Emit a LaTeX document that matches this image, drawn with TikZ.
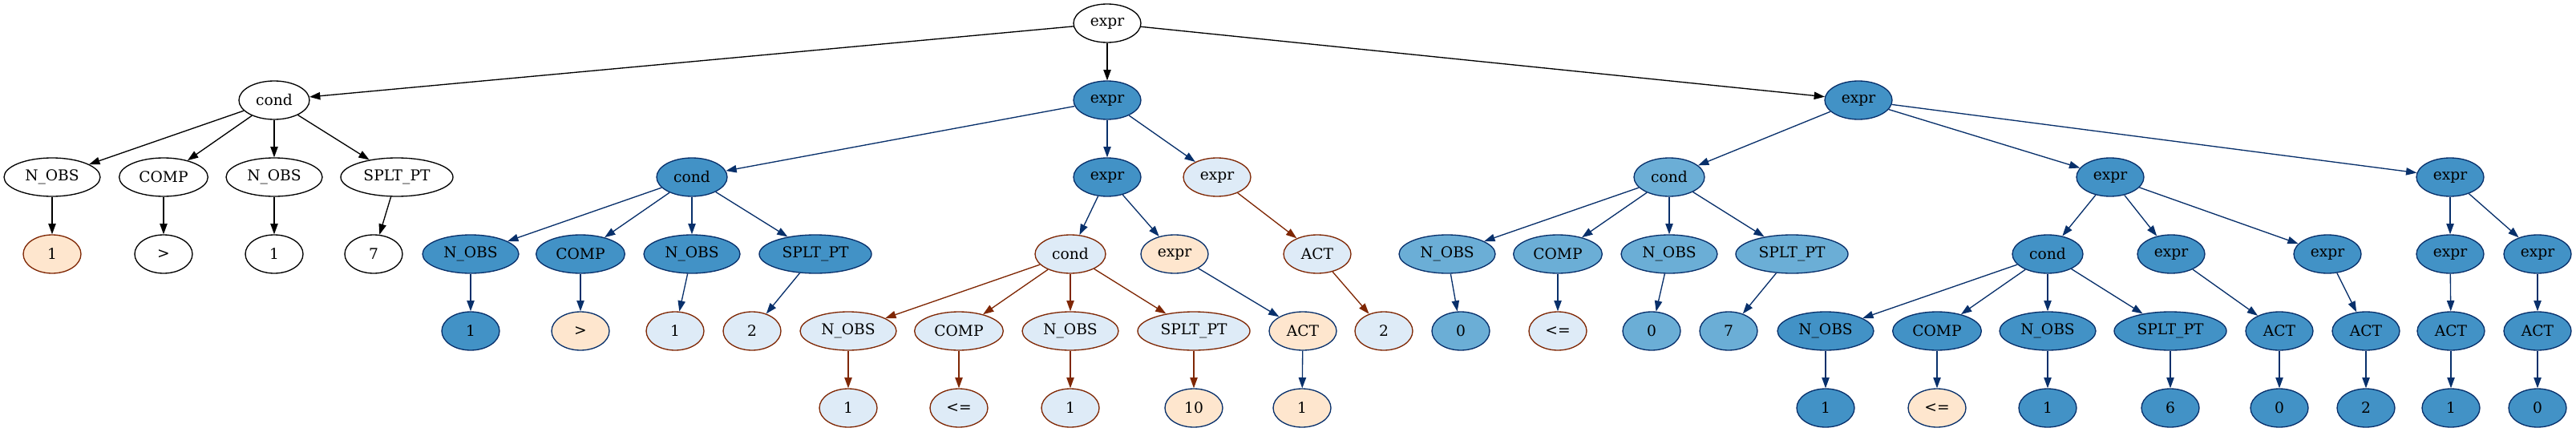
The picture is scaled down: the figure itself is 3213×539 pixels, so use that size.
\documentclass[tikz,border=0pt]{standalone}
\usepackage{fontspec}
\setmainfont{DejaVu Serif}
\usepackage{xcolor}
\usepackage{tikz}
\usetikzlibrary{arrows.meta,shapes.geometric}
\definecolor{TreeDark}{HTML}{4292C6}
\definecolor{TreeMid}{HTML}{6BAED6}
\definecolor{TreePale}{HTML}{DEEBF7}
\definecolor{TreePeach}{HTML}{FEE6CE}
\definecolor{TreeBlue}{HTML}{08306B}
\definecolor{TreeBrown}{HTML}{7F2704}
\tikzset{
  tn/.style={ellipse, draw, line width=1pt, minimum height=36pt,
             minimum width=54pt, inner sep=1pt, font=\fontsize{14}{16}\selectfont},
  nplain/.style={tn, fill=white, draw=black},
  ndark/.style={tn, fill=TreeDark, draw=TreeBlue},
  nmid/.style={tn, fill=TreeMid, draw=TreeBlue},
  npale/.style={tn, fill=TreePale, draw=TreeBrown},
  npeach/.style={tn, fill=TreePeach, draw=TreeBlue},
  npeachbr/.style={tn, fill=TreePeach, draw=TreeBrown},
  wexpr/.style={minimum width=63pt},
  wcond/.style={minimum width=66pt},
  wcomp/.style={minimum width=83pt},
  wnobs/.style={minimum width=90pt},
  wsplt/.style={minimum width=105pt},
  flow/.style={-{Triangle[length=10pt,width=7pt]}, line width=1pt},
  bflow/.style={flow, draw=TreeBlue},
  rflow/.style={flow, draw=TreeBrown}
}
\begin{document}
\begin{tikzpicture}[x=0.75pt, y=-0.75pt]
  \useasboundingbox (0,0) rectangle (3213,539);
  % level 0 and 1
  \node[nplain, wexpr] (root) at (1381,29) {expr};
  \node[nplain, wcond] (ca) at (342,125) {cond};
  \node[ndark, wexpr] (eb) at (1381,125) {expr};
  \node[ndark, wexpr] (ec) at (2318,125) {expr};
  % level 2
  \node[nplain, wnobs] (ca1) at (65,221) {N\_OBS};
  \node[nplain, wcomp] (ca2) at (204,221) {COMP};
  \node[nplain, wnobs] (ca3) at (342,221) {N\_OBS};
  \node[nplain, wsplt] (ca4) at (495,221) {SPLT\_PT};
  \node[ndark, wcond] (cb) at (863,221) {cond};
  \node[ndark, wexpr] (ebb) at (1381,221) {expr};
  \node[npale, wexpr] (ebc) at (1518,221) {expr};
  \node[nmid, wcond] (cc) at (2082,221) {cond};
  \node[ndark, wexpr] (ecb) at (2632,221) {expr};
  \node[ndark, wexpr] (ecc) at (3056,221) {expr};
  % level 3
  \node[npeachbr] (ca1v) at (65,317) {1};
  \node[nplain] (ca2v) at (204,317) {>};
  \node[nplain] (ca3v) at (342,317) {1};
  \node[nplain] (ca4v) at (466,317) {7};
  \node[ndark, wnobs] (cb1) at (587,317) {N\_OBS};
  \node[ndark, wcomp] (cb2) at (724,317) {COMP};
  \node[ndark, wnobs] (cb3) at (863,317) {N\_OBS};
  \node[ndark, wsplt] (cb4) at (1017,317) {SPLT\_PT};
  \node[npale, wcond] (cd) at (1335,317) {cond};
  \node[npeach, wexpr] (ebe) at (1465,317) {expr};
  \node[npale, wexpr] (ebca) at (1643,317) {ACT};
  \node[nmid, wnobs] (cc1) at (1805,317) {N\_OBS};
  \node[nmid, wcomp] (cc2) at (1943,317) {COMP};
  \node[nmid, wnobs] (cc3) at (2082,317) {N\_OBS};
  \node[nmid, wsplt] (cc4) at (2235,317) {SPLT\_PT};
  \node[ndark, wcond] (ce) at (2554,317) {cond};
  \node[ndark, wexpr] (ecb2) at (2708,317) {expr};
  \node[ndark, wexpr] (ecb3) at (2903,317) {expr};
  \node[ndark, wexpr] (ecc1) at (3056,317) {expr};
  \node[ndark, wexpr] (ecc2) at (3165,317) {expr};
  % level 4
  \node[ndark] (cb1v) at (587,413) {1};
  \node[npeach] (cb2v) at (724,413) {>};
  \node[npale] (cb3v) at (842,413) {1};
  \node[npale] (cb4v) at (938,413) {2};
  \node[npale, wnobs] (cd1) at (1058,413) {N\_OBS};
  \node[npale, wcomp] (cd2) at (1196,413) {COMP};
  \node[npale, wnobs] (cd3) at (1335,413) {N\_OBS};
  \node[npale, wsplt] (cd4) at (1489,413) {SPLT\_PT};
  \node[npeach, wexpr] (ebea) at (1625,413) {ACT};
  \node[npale] (ebcav) at (1726,413) {2};
  \node[nmid] (cc1v) at (1822,413) {0};
  \node[npale] (cc2v) at (1943,413) {<=};
  \node[nmid] (cc3v) at (2060,413) {0};
  \node[nmid] (cc4v) at (2156,413) {7};
  \node[ndark, wnobs] (ce1) at (2277,413) {N\_OBS};
  \node[ndark, wcomp] (ce2) at (2416,413) {COMP};
  \node[ndark, wnobs] (ce3) at (2554,413) {N\_OBS};
  \node[ndark, wsplt] (ce4) at (2707,413) {SPLT\_PT};
  \node[ndark, wexpr] (ecb2a) at (2843,413) {ACT};
  \node[ndark, wexpr] (ecb3a) at (2951,413) {ACT};
  \node[ndark, wexpr] (ecc1a) at (3057,413) {ACT};
  \node[ndark, wexpr] (ecc2a) at (3165,413) {ACT};
  % level 5
  \node[npale] (cd1v) at (1058,509) {1};
  \node[npale] (cd2v) at (1196,509) {<=};
  \node[npale] (cd3v) at (1335,509) {1};
  \node[npeach] (cd4v) at (1489,509) {10};
  \node[npeach] (ebeav) at (1624,509) {1};
  \node[ndark] (ce1v) at (2277,509) {1};
  \node[npeach] (ce2v) at (2416,509) {<=};
  \node[ndark] (ce3v) at (2554,509) {1};
  \node[ndark] (ce4v) at (2707,509) {6};
  \node[ndark] (ecb2av) at (2843,509) {0};
  \node[ndark] (ecb3av) at (2951,509) {2};
  \node[ndark] (ecc1av) at (3057,509) {1};
  \node[ndark] (ecc2av) at (3165,509) {0};
  % black edges
  \draw[flow] (root) -- (ca);
  \draw[flow] (root) -- (eb);
  \draw[flow] (root) -- (ec);
  \draw[flow] (ca) -- (ca1);
  \draw[flow] (ca) -- (ca2);
  \draw[flow] (ca) -- (ca3);
  \draw[flow] (ca) -- (ca4);
  \draw[flow] (ca1) -- (ca1v);
  \draw[flow] (ca2) -- (ca2v);
  \draw[flow] (ca3) -- (ca3v);
  \draw[flow] (ca4) -- (ca4v);
  % blue edges
  \draw[bflow] (eb) -- (cb);
  \draw[bflow] (eb) -- (ebb);
  \draw[bflow] (eb) -- (ebc);
  \draw[bflow] (cb) -- (cb1);
  \draw[bflow] (cb) -- (cb2);
  \draw[bflow] (cb) -- (cb3);
  \draw[bflow] (cb) -- (cb4);
  \draw[bflow] (cb1) -- (cb1v);
  \draw[bflow] (cb2) -- (cb2v);
  \draw[bflow] (cb3) -- (cb3v);
  \draw[bflow] (cb4) -- (cb4v);
  \draw[bflow] (ebb) -- (cd);
  \draw[bflow] (ebb) -- (ebe);
  \draw[bflow] (ebe) -- (ebea);
  \draw[bflow] (ebea) -- (ebeav);
  \draw[bflow] (ec) -- (cc);
  \draw[bflow] (ec) -- (ecb);
  \draw[bflow] (ec) -- (ecc);
  \draw[bflow] (cc) -- (cc1);
  \draw[bflow] (cc) -- (cc2);
  \draw[bflow] (cc) -- (cc3);
  \draw[bflow] (cc) -- (cc4);
  \draw[bflow] (cc1) -- (cc1v);
  \draw[bflow] (cc2) -- (cc2v);
  \draw[bflow] (cc3) -- (cc3v);
  \draw[bflow] (cc4) -- (cc4v);
  \draw[bflow] (ecb) -- (ce);
  \draw[bflow] (ecb) -- (ecb2);
  \draw[bflow] (ecb) -- (ecb3);
  \draw[bflow] (ce) -- (ce1);
  \draw[bflow] (ce) -- (ce2);
  \draw[bflow] (ce) -- (ce3);
  \draw[bflow] (ce) -- (ce4);
  \draw[bflow] (ce1) -- (ce1v);
  \draw[bflow] (ce2) -- (ce2v);
  \draw[bflow] (ce3) -- (ce3v);
  \draw[bflow] (ce4) -- (ce4v);
  \draw[bflow] (ecb2) -- (ecb2a);
  \draw[bflow] (ecb2a) -- (ecb2av);
  \draw[bflow] (ecb3) -- (ecb3a);
  \draw[bflow] (ecb3a) -- (ecb3av);
  \draw[bflow] (ecc) -- (ecc1);
  \draw[bflow] (ecc) -- (ecc2);
  \draw[bflow] (ecc1) -- (ecc1a);
  \draw[bflow] (ecc1a) -- (ecc1av);
  \draw[bflow] (ecc2) -- (ecc2a);
  \draw[bflow] (ecc2a) -- (ecc2av);
  % brown edges
  \draw[rflow] (cd) -- (cd1);
  \draw[rflow] (cd) -- (cd2);
  \draw[rflow] (cd) -- (cd3);
  \draw[rflow] (cd) -- (cd4);
  \draw[rflow] (cd1) -- (cd1v);
  \draw[rflow] (cd2) -- (cd2v);
  \draw[rflow] (cd3) -- (cd3v);
  \draw[rflow] (cd4) -- (cd4v);
  \draw[rflow] (ebc) -- (ebca);
  \draw[rflow] (ebca) -- (ebcav);
\end{tikzpicture}
\end{document}
